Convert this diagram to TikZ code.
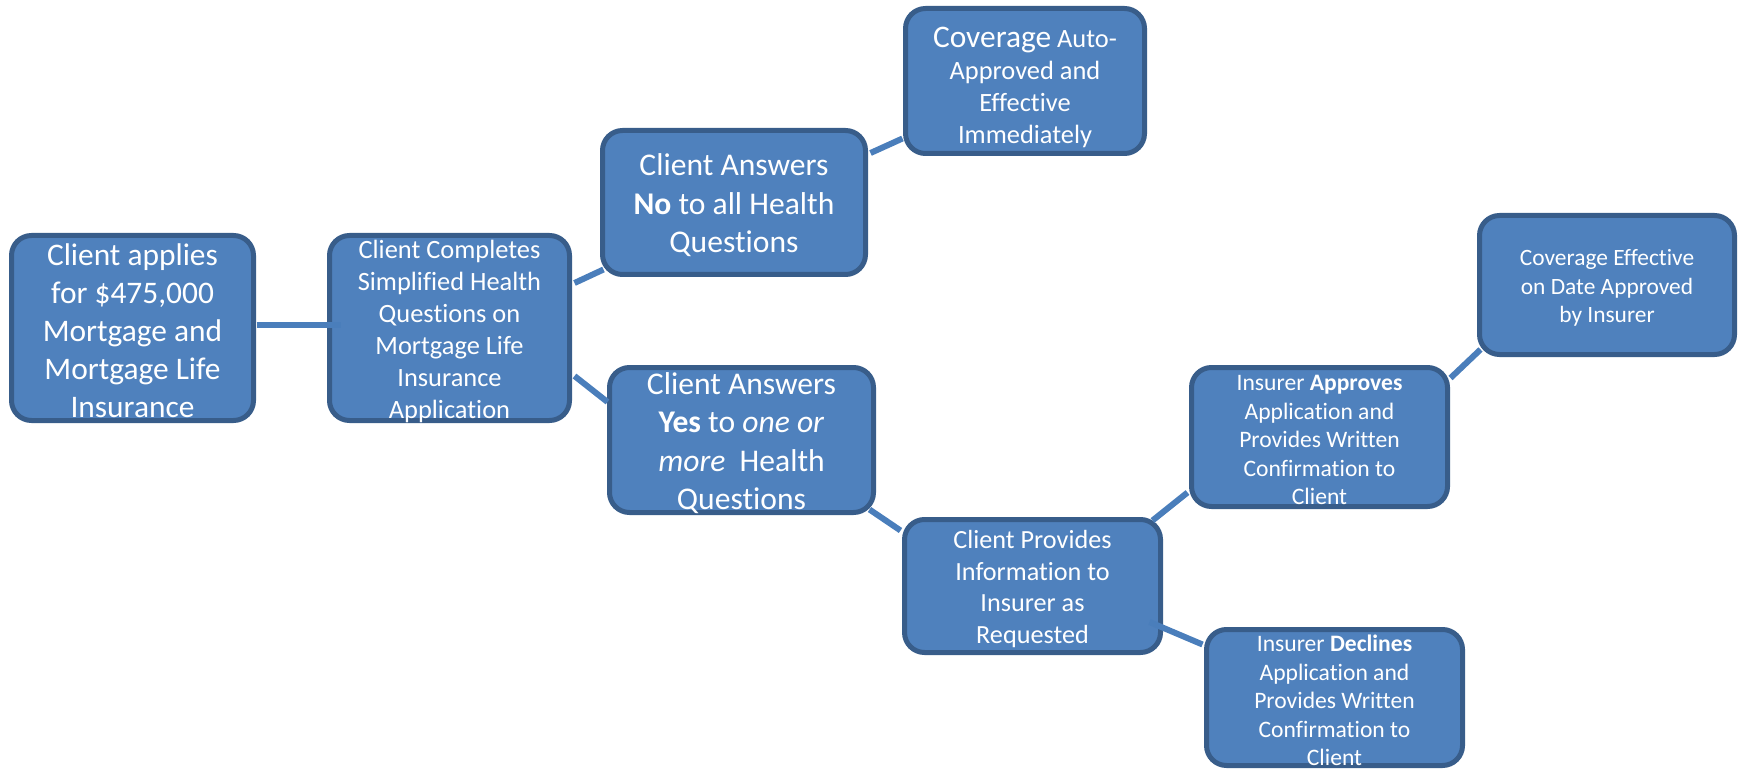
\documentclass[tikz,border=0pt]{standalone}
\usepackage{fontspec}
\setmainfont[RawFeature={-liga;-dlig;-clig;-calt}]{Carlito}
\usetikzlibrary{calc}
\definecolor{boxfill}{HTML}{4F81BD}
\definecolor{boxline}{HTML}{385D8A}
\definecolor{linkline}{HTML}{4A7EBB}
\tikzset{
  box/.style={draw=boxline, fill=boxfill, line width=2.5pt, rounded corners=10pt, inner sep=0pt},
  txt/.style={text=white, align=center, inner sep=0pt, yshift=-1.5pt},
  link/.style={draw=linkline, line width=3pt},
}
\begin{document}
\begin{tikzpicture}[x=0.5pt, y=-0.5pt]
\useasboundingbox (0,0) rectangle (1740,770);

% boxes (centres in px, sizes in pt)
\node[box, minimum width=121pt, minimum height=92.5pt] (A) at (132.5,328) {};
\node[box, minimum width=120pt, minimum height=92.5pt] (B) at (449.5,328) {};
\node[box, minimum width=131.5pt, minimum height=72pt] (C) at (734,202.5) {};
\node[box, minimum width=119.5pt, minimum height=72.5pt] (D) at (1025,81) {};
\node[box, minimum width=132pt, minimum height=72.5pt] (E) at (741.5,440) {};
\node[box, minimum width=128pt, minimum height=66.5pt] (F) at (1032.5,586) {};
\node[box, minimum width=128pt, minimum height=69.5pt] (G) at (1319.5,437) {};
\node[box, minimum width=127.5pt, minimum height=69.5pt] (H) at (1607,285) {};
\node[box, minimum width=128pt, minimum height=68pt] (I) at (1334.5,697.5) {};

% box texts
\node[txt, font=\fontsize{15.7}{19}\selectfont] (At) at (A.center)
  {Client applies\\for \$475,000\\Mortgage and\\Mortgage Life\\Insurance};
\node[txt, font=\fontsize{13.2}{16}\selectfont] (Bt) at (B.center)
  {Client Completes\\Simplified Health\\Questions on\\Mortgage Life\\Insurance\\Application};
\node[txt, font=\fontsize{15.8}{19.2}\selectfont] (Ct) at (C.center)
  {Client Answers\\\textbf{No} to all Health\\Questions};
\node[txt, font=\fontsize{13.2}{16}\selectfont, yshift=-1.5pt] (Dt) at (D.center)
  {{\fontsize{15.7}{19}\selectfont Coverage} Auto-\\Approved and\\Effective\\Immediately};
\node[txt, font=\fontsize{15.8}{19.2}\selectfont] (Et) at (E.center)
  {Client Answers\\\textbf{Yes} to \textit{one or}\\\textit{more}\ \ Health\\Questions};
\node[txt, font=\fontsize{13.1}{15.8}\selectfont] (Ft) at (F.center)
  {Client Provides\\Information to\\Insurer as\\Requested};
\node[txt, font=\fontsize{11.8}{14.25}\selectfont] (Gt) at (G.center)
  {Insurer \textbf{Approves}\\Application and\\Provides Written\\Confirmation to\\Client};
\node[txt, font=\fontsize{11.7}{14.2}\selectfont] (Ht) at (H.center)
  {Coverage Effective\\on Date Approved\\by Insurer};
\node[txt, font=\fontsize{11.8}{14.25}\selectfont] (It) at (I.center)
  {Insurer \textbf{Declines}\\Application and\\Provides Written\\Confirmation to\\Client};

% connectors
\draw[link] ($(A.east)+(0.5,-3)$) -- ($(B.west)+(13.5,-3)$);
\draw[link] ($(B.east)+(2.5,-45)$) -- ($(C.south west)+(3.5,-7.5)$);
\draw[link] ($(C.east)+(2.5,-49.5)$) -- ($(D.south west)+(-0.5,-17.5)$);
\draw[link] ($(B.east)+(2.5,48)$) -- ($(E.west)+(0.5,-38)$);
\draw[link] ($(E.south east)+(-6.5,-5.5)$) -- ($(F.north west)+(-1.5,13.5)$);
\draw[link] ($(F.north east)+(-10.5,3.5)$) -- ($(G.south west)+(-1.5,-16.5)$);
\draw[link] ($(G.east)+(0.5,-59)$) -- ($(H.south west)+(3.5,-7.5)$);
\draw[link] ($(F.east)+(-13.5,36)$) -- ($(I.north west)+(-1.5,17.5)$);
\end{tikzpicture}
\end{document}
